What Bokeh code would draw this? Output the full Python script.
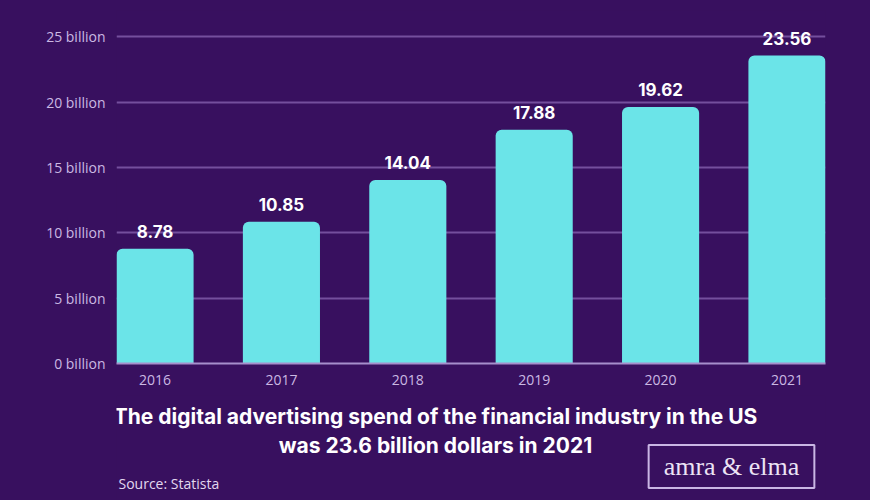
from bokeh.plotting import figure
from bokeh.models import Range1d, FixedTicker, Label, ColumnDataSource
from bokeh.layouts import column
from bokeh.core.properties import value
from bokeh.embed import file_html
from bokeh.resources import INLINE

years = ["2016", "2017", "2018", "2019", "2020", "2021"]
spend = [8.78, 10.85, 14.04, 17.88, 19.62, 23.56]
y_ticks = [0, 5, 10, 15, 20, 25]
y_tick_labels = ["0 billion", "5 billion", "10 billion", "15 billion", "20 billion", "25 billion"]
title_lines = ["The digital advertising spend of the financial industry in the US",
               "was 23.6 billion dollars in 2021"]
source_text = "Source: Statista"
logo_text = "amra & elma"

BG = "#38105f"
BAR = "#6be4e8"
GRID = "#8e6bb8"
FRAME_LEFT = 116  # page x of the chart frame's left edge (bottom panel frame is aligned with it)

xs = list(range(len(years)))
src = ColumnDataSource(dict(x=xs, top=spend, lab=[f"{v:.2f}" for v in spend]))

p = figure(width=870, height=395, output_backend="svg", toolbar_location=None,
           x_range=Range1d(-0.305, len(years) - 1 + 0.305), y_range=Range1d(0, 27),
           min_border_left=FRAME_LEFT, min_border_right=45, min_border_top=10, min_border_bottom=32)
p.background_fill_color = BG
p.border_fill_color = BG
p.outline_line_color = None

p.vbar(x="x", top="top", bottom=0, width=0.61, source=src, fill_color=BAR, line_color=None,
       border_radius=(6, 6, 0, 0))
p.text(x="x", y="top", text="lab", source=src, y_offset=-17, text_align="center",
       text_baseline="middle", text_color="white", text_font=value("Inter"),
       text_font_size="17px", text_font_style="bold")

# axes
p.xaxis.ticker = FixedTicker(ticks=xs)
p.xaxis.major_label_overrides = {i: y for i, y in enumerate(years)}
p.xaxis.axis_line_color = "#a68fcc"
p.xaxis.axis_line_width = 2
p.xaxis.major_tick_line_color = None
p.xaxis.minor_tick_line_color = None
p.xaxis.major_label_standoff = 5
p.xaxis.major_label_text_color = "#cbb9e3"
p.xaxis.major_label_text_font = "Open Sans"
p.xaxis.major_label_text_font_size = "14px"

p.yaxis.ticker = FixedTicker(ticks=y_ticks)
p.yaxis.major_label_overrides = {t: l for t, l in zip(y_ticks, y_tick_labels)}
p.yaxis.axis_line_color = None
p.yaxis.major_tick_line_color = None
p.yaxis.minor_tick_line_color = None
p.yaxis.major_label_standoff = 5
p.yaxis.major_label_text_color = "#cbb9e3"
p.yaxis.major_label_text_font = "Open Sans"
p.yaxis.major_label_text_font_size = "14px"

p.xgrid.grid_line_color = None
p.ygrid.grid_line_color = GRID
p.ygrid.grid_line_alpha = 0.7
p.ygrid.grid_line_width = 2

# bottom panel for caption, source and logo
q = figure(width=870, height=105, output_backend="svg", toolbar_location=None,
           x_range=Range1d(0, 1), y_range=Range1d(0, 105),
           min_border=0, x_axis_location=None, y_axis_location=None)
q.background_fill_color = BG
q.border_fill_color = BG
q.outline_line_color = None
q.grid.visible = False


def sx(page_x):
    return page_x - FRAME_LEFT


for i, t in enumerate(title_lines):
    q.add_layout(Label(x=sx(435), y=84 - i * 29, x_units="screen", y_units="screen", text=t,
                       text_align="center", text_baseline="middle", text_color="white",
                       text_font="Inter", text_font_size="21px", text_font_style="bold"))

q.add_layout(Label(x=sx(FRAME_LEFT + 2), y=17, x_units="screen", y_units="screen", text=source_text,
                   text_align="left", text_baseline="middle", text_color="#e2d8ef",
                   text_font="Open Sans", text_font_size="14px"))

q.add_layout(Label(x=sx(731), y=34, x_units="screen", y_units="screen", text=logo_text,
                   text_align="center", text_baseline="middle", text_color="#ece4f5",
                   text_font="Liberation Serif", text_font_size="26px",
                   border_line_color="#c9b6e4", border_line_width=2, padding=(15, 7)))

layout = column(p, q, spacing=0)
layout.styles = {"background-color": BG}
open("out.html", "w").write(file_html(layout, INLINE))
